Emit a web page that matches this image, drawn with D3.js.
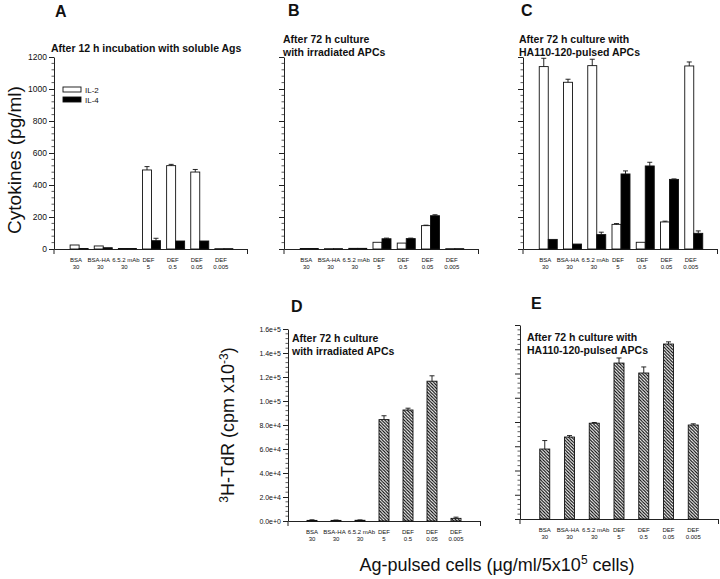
<!DOCTYPE html>
<html><head><meta charset="utf-8">
<script src="https://cdn.jsdelivr.net/npm/d3@7"></script>
<style>
body{margin:0;background:#fff;}
text{font-family:"Liberation Sans",Arial,sans-serif;}
</style></head>
<body>
<svg id="c" width="720" height="579"></svg>
<script>
const catLine1 = ["BSA","BSA-HA","6.5.2 mAb","DEF","DEF","DEF","DEF"];
const catLine2 = ["30","30","30","5","0.5","0.05","0.005"];
const cytTicks = [0,200,400,600,800,1000,1200];
const cpmTicks = [0,20000,40000,60000,80000,100000,120000,140000,160000];
const cpmTickLabels = ["0.0e+0","2.0e+4","4.0e+4","6.0e+4","8.0e+4","1.0e+5","1.2e+5","1.4e+5","1.6e+5"];

// Panel A
const aIL2 = [25,19,3,494,521,481,2];
const aIL2err = [0,0,0,21,8,16,0];
const aIL4 = [3,8,3,52,50,50,2];
const aIL4err = [0,0,0,15,0,0,0];
// Panel B
const bIL2 = [3,2,4,42,37,146,2];
const bIL2err = [0,0,0,0,0,3,0];
const bIL4 = [3,2,4,64,65,208,2];
const bIL4err = [0,0,0,4,3,6,0];
// Panel C
const cIL2 = [1140,1042,1146,154,42,169,1144];
const cIL2err = [52,19,40,5,0,5,25];
const cIL4 = [60,31,90,469,519,435,98];
const cIL4err = [0,0,15,19,23,3,15];
// Panel D
const dCpm = [500,500,600,84500,92500,116500,2200];
const dErr = [500,300,300,3200,1500,4500,1000];
// Panel E
const eCpm = [57700,67600,79000,128600,120400,144300,77500];
const eErr = [7000,1200,600,4200,5000,1800,1000];

const svg = d3.select("#c");
const defs = svg.append("defs");
const pat = defs.append("pattern").attr("id","hatch").attr("patternUnits","userSpaceOnUse")
  .attr("width",3.2).attr("height",3.2);
pat.append("rect").attr("width",3.2).attr("height",3.2).attr("fill","#fff");
pat.append("path").attr("d","M0,0L3.2,3.2M-1,2.2L1,4.2M2.2,-1L4.2,1")
  .attr("stroke","#000").attr("stroke-width",1.1);

const FONT = "Liberation Sans, Arial, sans-serif";

function panel(cfg){
  const g = svg.append("g");
  const x = d3.scaleLinear().domain([0,8]).range([cfg.x0,cfg.x1]);
  const y = d3.scaleLinear().domain([0,cfg.max]).range([cfg.yb,cfg.yt]);
  const ya = d3.axisLeft(y).tickValues(cfg.ticks).tickSize(5).tickSizeOuter(0)
    .tickFormat((d,i)=> cfg.tickLabels ? cfg.tickLabels[i] : "");
  const yg = g.append("g").attr("transform",`translate(${cfg.x0},0)`).call(ya);
  yg.selectAll("text").attr("font-size",cfg.tickFont).attr("font-family",FONT).attr("fill","#111").attr("x",-7);
  yg.selectAll("line,path").attr("stroke","#222").attr("stroke-width",1);
  const minors = d3.range(0,cfg.max+1e-9,cfg.minor).filter(v=>!cfg.ticks.includes(v));
  g.append("g").selectAll("line").data(minors).join("line")
    .attr("x1",cfg.x0-2.5).attr("x2",cfg.x0).attr("y1",d=>y(d)).attr("y2",d=>y(d))
    .attr("stroke","#333").attr("stroke-width",0.8);
  g.append("line").attr("x1",cfg.x0).attr("x2",cfg.x0).attr("y1",cfg.yb).attr("y2",cfg.yb+5)
    .attr("stroke","#222");
  const xa = d3.axisBottom(x).tickValues([8]).tickSize(5).tickSizeOuter(0).tickFormat("");
  const xg = g.append("g").attr("transform",`translate(0,${cfg.yb})`).call(xa);
  xg.selectAll("line,path").attr("stroke","#222").attr("stroke-width",1);
  const idx = d3.range(7);
  const lab = g.append("g").selectAll("text").data(idx).join("text")
    .attr("text-anchor","middle").attr("font-size",6).attr("fill","#111");
  lab.append("tspan").attr("x",i=>x(i+1)+cfg.labDx+(i===1?-1.5:i===2?1.5:0)).attr("y",cfg.yb+13).text(i=>catLine1[i]);
  lab.append("tspan").attr("x",i=>x(i+1)+cfg.labDx).attr("y",cfg.yb+20).text(i=>catLine2[i]);
  cfg.series.forEach(s=>{
    const bg = g.append("g");
    bg.selectAll("rect").data(s.vals).join("rect")
      .attr("x",(d,i)=>x(i+1)+s.off).attr("width",cfg.bw)
      .attr("y",d=>y(d)).attr("height",d=>Math.max(0,cfg.yb-y(d)))
      .attr("fill",s.fill).attr("stroke","#111").attr("stroke-width",0.9);
    const eb = bg.append("g").selectAll("g").data(s.vals.map((v,i)=>({v,e:s.err[i],i})).filter(d=>d.e>0)).join("g");
    eb.append("line").attr("x1",d=>x(d.i+1)+s.off+cfg.bw/2).attr("x2",d=>x(d.i+1)+s.off+cfg.bw/2)
      .attr("y1",d=>y(d.v)).attr("y2",d=>y(d.v+d.e)).attr("stroke","#111").attr("stroke-width",0.9);
    eb.append("line").attr("x1",d=>x(d.i+1)+s.off+cfg.bw/2-2.5).attr("x2",d=>x(d.i+1)+s.off+cfg.bw/2+2.5)
      .attr("y1",d=>y(d.v+d.e)).attr("y2",d=>y(d.v+d.e)).attr("stroke","#111").attr("stroke-width",0.9);
  });
  const t = g.append("text").attr("font-size",10.5).attr("font-weight","bold").attr("fill","#111");
  cfg.title.forEach((line,k)=>{
    t.append("tspan").attr("x",cfg.tx).attr("y",cfg.ty+k*12.5).text(line);
  });
  g.append("text").attr("x",cfg.lx).attr("y",cfg.ly).attr("font-size",16).attr("font-weight","bold")
    .attr("fill","#111").text(cfg.letter);
  return {x,y,g};
}

const groupSeries = (il2,il2e,il4,il4e)=>[
  {vals:il2,err:il2e,fill:"#fff",off:-8},
  {vals:il4,err:il4e,fill:"#000",off:1}
];

panel({x0:54,x1:247,yt:57,yb:249,max:1200,ticks:cytTicks,tickLabels:cytTicks.map(String),
  tickFont:8.5,minor:40,bw:9,labDx:-2,series:groupSeries(aIL2,aIL2err,aIL4,aIL4err),
  title:["After 12 h incubation with soluble Ags"],tx:51,ty:52,letter:"A",lx:55,ly:17});
panel({x0:284,x1:478,yt:57,yb:249,max:1200,ticks:cytTicks,tickLabels:null,
  tickFont:8.5,minor:40,bw:9,labDx:-2,series:groupSeries(bIL2,bIL2err,bIL4,bIL4err),
  title:["After 72 h culture","with irradiated APCs"],tx:283,ty:43,letter:"B",lx:288,ly:16});
panel({x0:523,x1:717,yt:57,yb:249,max:1200,ticks:cytTicks,tickLabels:null,
  tickFont:8.5,minor:40,bw:9,labDx:-2,series:groupSeries(cIL2,cIL2err,cIL4,cIL4err),
  title:["After 72 h culture with","HA110-120-pulsed APCs"],tx:519,ty:43,letter:"C",lx:521,ly:16});
panel({x0:288,x1:480,yt:329,yb:521,max:160000,ticks:cpmTicks,tickLabels:cpmTickLabels,
  tickFont:7,minor:4000,bw:10,labDx:0,series:[{vals:dCpm,err:dErr,fill:"url(#hatch)",off:-5}],
  title:["After 72 h culture","with irradiated APCs"],tx:292,ty:342,letter:"D",lx:291,ly:312});
panel({x0:520,x1:718,yt:325,yb:519,max:160000,ticks:cpmTicks,tickLabels:null,
  tickFont:7,minor:4000,bw:10,labDx:0,series:[{vals:eCpm,err:eErr,fill:"url(#hatch)",off:-5}],
  title:["After 72 h culture with","HA110-120-pulsed APCs"],tx:527,ty:341,letter:"E",lx:531,ly:309});

const legend = [{name:"IL-2",fill:"#fff"},{name:"IL-4",fill:"#000"}];
const lg = svg.append("g").selectAll("g").data(legend).join("g")
  .attr("transform",(d,i)=>`translate(63,${87+i*10})`);
lg.append("rect").attr("width",18).attr("height",5).attr("fill",d=>d.fill).attr("stroke","#111").attr("stroke-width",0.9);
lg.append("text").attr("x",22).attr("y",5.5).attr("font-size",8).attr("fill","#111").text(d=>d.name);

svg.append("text").attr("transform","translate(21,160) rotate(-90)").attr("text-anchor","middle")
  .attr("font-size",19).attr("fill","#111").text("Cytokines (pg/ml)");
const yl2 = svg.append("text").attr("transform","translate(234,425) rotate(-90)").attr("text-anchor","middle")
  .attr("font-size",18).attr("fill","#111");
yl2.append("tspan").attr("font-size",12).attr("dy",-6).text("3");
yl2.append("tspan").attr("dy",6).text("H-TdR (cpm x10");
yl2.append("tspan").attr("font-size",12).attr("dy",-6).text("-3");
yl2.append("tspan").attr("dy",6).text(")");
const xl = svg.append("text").attr("x",497).attr("y",571).attr("text-anchor","middle")
  .attr("font-size",18).attr("fill","#111");
xl.append("tspan").text("Ag-pulsed cells (\u00b5g/ml/5x10");
xl.append("tspan").attr("font-size",12).attr("dy",-7).text("5");
xl.append("tspan").attr("dy",7).text(" cells)");
</script>
</body></html>
